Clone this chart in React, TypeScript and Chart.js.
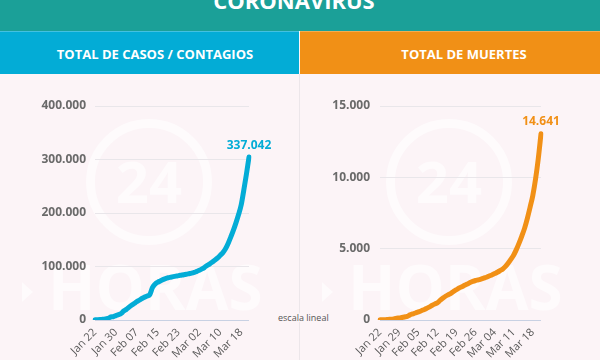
import React, { useEffect, useRef } from "react";
import { Chart, registerables } from "chart.js";

Chart.register(...registerables);

// ---------- DATA ----------
const days: string[] = [
  "Jan 22", "Jan 23", "Jan 24", "Jan 25", "Jan 26", "Jan 27", "Jan 28", "Jan 29", "Jan 30", "Jan 31",
  "Feb 01", "Feb 02", "Feb 03", "Feb 04", "Feb 05", "Feb 06", "Feb 07", "Feb 08", "Feb 09", "Feb 10",
  "Feb 11", "Feb 12", "Feb 13", "Feb 14", "Feb 15", "Feb 16", "Feb 17", "Feb 18", "Feb 19", "Feb 20",
  "Feb 21", "Feb 22", "Feb 23", "Feb 24", "Feb 25", "Feb 26", "Feb 27", "Feb 28", "Feb 29",
  "Mar 01", "Mar 02", "Mar 03", "Mar 04", "Mar 05", "Mar 06", "Mar 07", "Mar 08", "Mar 09", "Mar 10",
  "Mar 11", "Mar 12", "Mar 13", "Mar 14", "Mar 15", "Mar 16", "Mar 17", "Mar 18", "Mar 19", "Mar 20", "Mar 21",
];

const casesValues: number[] = [
  555, 654, 941, 1434, 2118, 2927, 5578, 6166, 8234, 9927,
  12038, 16787, 19881, 23892, 27635, 30794, 34391, 37120, 40150, 42762,
  44802, 47500, 60368, 66885, 70500, 73000, 75500, 77500, 79000, 80000,
  81000, 82000, 83000, 83800, 84600, 85500, 86500, 87500, 89000,
  91000, 93000, 95500, 98500, 102000, 105000, 108500, 112000, 116000, 121000,
  126000, 133000, 143000, 155000, 167454, 181574, 197102, 214821, 242570, 272208, 304507,
];

const deathsValues: number[] = [
  17, 18, 26, 42, 56, 82, 131, 133, 171, 213,
  259, 362, 426, 492, 564, 634, 719, 806, 906, 1013,
  1113, 1200, 1371, 1523, 1666, 1770, 1868, 2007, 2122, 2247,
  2330, 2430, 2520, 2629, 2708, 2770, 2814, 2872, 2941,
  2996, 3085, 3160, 3254, 3348, 3460, 3580, 3760, 3990, 4262,
  4560, 4950, 5404, 5900, 6440, 7126, 7905, 8733, 9867, 11299, 13048,
];

const casesTickLabels: string[] = ["Jan 22", "Jan 30", "Feb 07", "Feb 15", "Feb 23", "Mar 02", "Mar 10", "Mar 18"];
const deathsTickLabels: string[] = ["Jan 22", "Jan 29", "Feb 05", "Feb 12", "Feb 19", "Feb 26", "Mar 04", "Mar 11", "Mar 18"];

const casesYMax = 400000;
const casesYStep = 100000;
const deathsYMax = 15000;
const deathsYStep = 5000;

const casesTotalLabel = "337.042";
const deathsTotalLabel = "14.641";

const titleText = "CORONAVIRUS";
const casesHeader = "TOTAL DE CASOS / CONTAGIOS";
const deathsHeader = "TOTAL DE MUERTES";
const scaleNote = "escala lineal";

// ---------- STYLE ----------
const FONT = '"Open Sans", "DejaVu Sans", sans-serif';
const TEAL = "#1ba098";
const BLUE = "#03acd6";
const ORANGE = "#f19016";
const BG = "#fcf4f7";
const WM = "rgba(255,255,255,0.6)";

const fmt = (v: number) => String(Math.round(v)).replace(/\B(?=(\d{3})+(?!\d))/g, ".");

const endLabelPlugin = {
  id: "endLabel",
  afterDatasetsDraw(chart: any, _args: any, opts: any) {
    const meta = chart.getDatasetMeta(0);
    const pt = meta.data[meta.data.length - 1];
    if (!pt) return;
    const ctx = chart.ctx;
    ctx.save();
    ctx.font = `bold 12px ${FONT}`;
    ctx.fillStyle = opts.color;
    ctx.textAlign = "center";
    ctx.textBaseline = "middle";
    ctx.fillText(opts.text, pt.x + (opts.dx || 0), pt.y - 12);
    ctx.restore();
  },
};

interface PanelProps {
  values: number[];
  tickLabels: string[];
  yMax: number;
  yStep: number;
  color: string;
  endText: string;
  yWidth: number;
  rightPad: number;
  labelPad: number;
  left: number;
}

function PanelChart(p: PanelProps) {
  const ref = useRef<HTMLCanvasElement | null>(null);
  useEffect(() => {
    if (!ref.current) return;
    const chart = new Chart(ref.current, {
      type: "line",
      data: {
        labels: days,
        datasets: [
          {
            data: p.values,
            borderColor: p.color,
            borderWidth: 5,
            borderCapStyle: "round",
            borderJoinStyle: "round",
            pointRadius: 0,
            fill: false,
            cubicInterpolationMode: "monotone",
            tension: 0.4,
          },
        ],
      },
      options: {
        animation: false,
        responsive: false,
        devicePixelRatio: 1,
        layout: { padding: { left: 0, top: 26, right: p.rightPad, bottom: 0 } },
        plugins: {
          legend: { display: false },
          tooltip: { enabled: false },
          endLabel: { text: p.endText, color: p.color },
        } as any,
        scales: {
          x: {
            offset: false,
            grid: { display: false, drawTicks: false },
            border: { display: false },
            afterFit: (s: any) => {
              s.height = 40;
            },
            ticks: {
              autoSkip: false,
              minRotation: 45,
              maxRotation: 45,
              padding: 6,
              color: "#5a5a5a",
              font: { family: FONT, size: 11 },
              callback: (_v: any, i: number) => (p.tickLabels.includes(days[i]) ? days[i] : ""),
            },
          },
          y: {
            min: 0,
            max: p.yMax,
            afterFit: (s: any) => {
              s.width = p.yWidth;
            },
            border: { display: false },
            grid: {
              drawTicks: false,
              color: (c: any) => (c.tick && c.tick.value === 0 ? "#c8d1e3" : "#e9e6ea"),
              lineWidth: 1,
            },
            ticks: {
              stepSize: p.yStep,
              padding: p.labelPad,
              color: "#6a6a6a",
              font: { family: FONT, size: 12, weight: "bold" },
              callback: (v: any) => fmt(Number(v)),
            },
          },
        },
      },
      plugins: [endLabelPlugin],
    } as any);
    return () => chart.destroy();
  }, []);
  return (
    <canvas
      ref={ref}
      width={300}
      height={280}
      style={{ position: "absolute", left: p.left, top: 80, width: 300, height: 280 }}
    />
  );
}

function Watermark({ offset }: { offset: number }) {
  return (
    <>
      <div
        style={{
          position: "absolute",
          left: offset + 86,
          top: 119,
          width: 126,
          height: 126,
          borderRadius: "50%",
          border: `9px solid ${WM}`,
          boxSizing: "border-box",
        }}
      />
      <div
        style={{
          position: "absolute",
          left: offset + 86,
          width: 126,
          top: 152,
          textAlign: "center",
          fontFamily: FONT,
          fontWeight: 700,
          fontSize: 58,
          lineHeight: "58px",
          color: WM,
        }}
      >
        24
      </div>
      <div
        style={{
          position: "absolute",
          left: offset + 22,
          top: 282,
          width: 0,
          height: 0,
          borderTop: "10px solid transparent",
          borderBottom: "10px solid transparent",
          borderLeft: `11px solid ${WM}`,
        }}
      />
      <div
        style={{
          position: "absolute",
          left: offset + 48,
          top: 255,
          fontFamily: FONT,
          fontWeight: 700,
          fontSize: 62,
          lineHeight: "62px",
          color: WM,
          whiteSpace: "nowrap",
        }}
      >
        HORAS
      </div>
    </>
  );
}

export default function App() {
  useEffect(() => {
    document.body.style.margin = "0";
  }, []);
  const headerText: React.CSSProperties = {
    position: "absolute",
    top: 48,
    fontFamily: FONT,
    fontWeight: 700,
    fontSize: 13,
    lineHeight: "13px",
    color: "#ffffff",
    whiteSpace: "nowrap",
    transform: "translateX(-50%)",
  };
  return (
    <div style={{ position: "relative", width: 600, height: 360, overflow: "hidden", background: BG }}>
      <div style={{ position: "absolute", left: 0, top: 0, width: 600, height: 31, background: TEAL }} />
      <div
        style={{
          position: "absolute",
          left: 294,
          top: -11.5,
          transform: "translateX(-50%)",
          fontFamily: FONT,
          fontWeight: 700,
          fontSize: 22,
          lineHeight: "22px",
          color: "#ffffff",
          whiteSpace: "nowrap",
        }}
      >
        {titleText}
      </div>
      <div style={{ position: "absolute", left: 0, top: 31, width: 299, height: 43, background: BLUE }} />
      <div style={{ position: "absolute", left: 300, top: 31, width: 300, height: 43, background: ORANGE }} />
      <div style={{ position: "absolute", left: 0, top: 31, width: 600, height: 1, background: "rgba(255,255,255,0.25)" }} />
      <div style={{ ...headerText, left: 155 }}>{casesHeader}</div>
      <div style={{ ...headerText, left: 464 }}>{deathsHeader}</div>
      <div style={{ position: "absolute", left: 299, top: 74, width: 1, height: 286, background: "#ece6ea" }} />
      <Watermark offset={0} />
      <Watermark offset={300} />
      <div
        style={{
          position: "absolute",
          left: 278,
          top: 312.5,
          fontFamily: FONT,
          fontSize: 9,
          lineHeight: "9px",
          color: "#555555",
          whiteSpace: "nowrap",
          background: BG,
        }}
      >
        {scaleNote}
      </div>
      <PanelChart
        values={casesValues}
        tickLabels={casesTickLabels}
        yMax={casesYMax}
        yStep={casesYStep}
        color={BLUE}
        endText={casesTotalLabel}
        yWidth={95}
        rightPad={51}
        labelPad={9}
        left={0}
      />
      <PanelChart
        values={deathsValues}
        tickLabels={deathsTickLabels}
        yMax={deathsYMax}
        yStep={deathsYStep}
        color={ORANGE}
        endText={deathsTotalLabel}
        yWidth={80}
        rightPad={59}
        labelPad={10}
        left={300}
      />
    </div>
  );
}
